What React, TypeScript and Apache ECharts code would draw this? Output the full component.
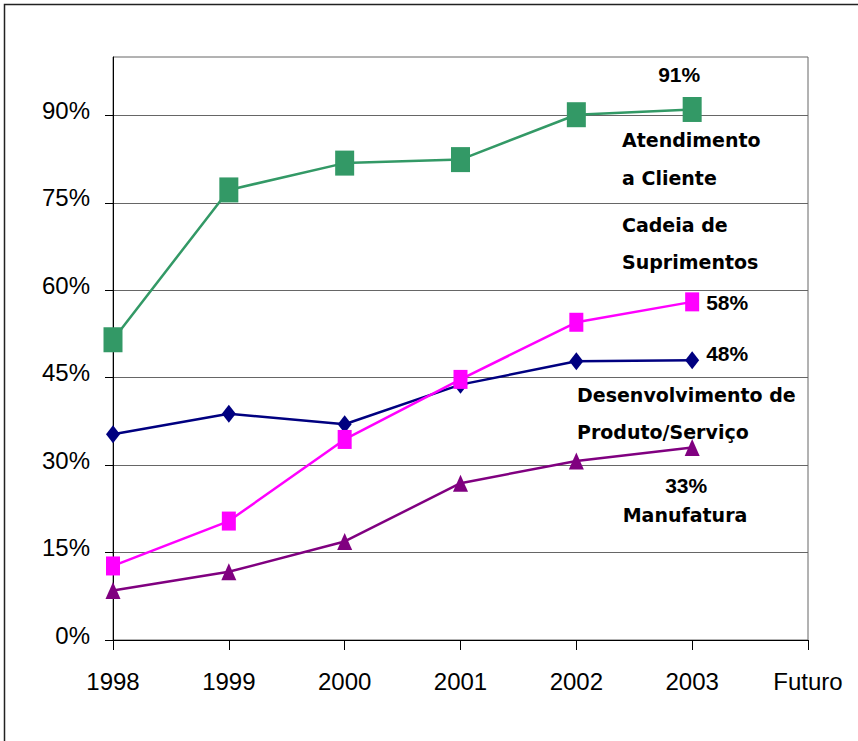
import React, { useEffect, useRef } from "react";
import * as echarts from "echarts";

// Category axis: survey years plus an empty "Futuro" slot at the right edge
const years = ["1998", "1999", "2000", "2001", "2002", "2003", "Futuro"];

// Share of companies (%) per business area
const atendimentoCliente = [51.5, 77.2, 81.8, 82.4, 90.1, 91];
const cadeiaSuprimentos = [12.7, 20.4, 34.4, 44.7, 54.5, 58];
const desenvolvimentoProduto = [35.3, 38.8, 37.0, 43.8, 47.8, 48];
const manufatura = [8.5, 11.7, 16.9, 26.9, 30.7, 33];

const yTicks = [0, 15, 30, 45, 60, 75, 90];

const percentFont = {
  fontFamily: "Liberation Sans, Arial, sans-serif",
  fontWeight: "bold" as const,
  fontSize: 21,
  color: "#000",
};

// Value label on the last point of a series, text taken from the value itself
function withEndLabel(values: number[], label: Record<string, unknown>) {
  return values.map((v, i) =>
    i === values.length - 1
      ? {
          value: v,
          label: {
            show: true,
            position: "inside",
            verticalAlign: "middle",
            formatter: (p: any) => Math.round(p.value) + "%",
            ...percentFont,
            ...label,
          },
        }
      : v
  );
}

const wordStyle = {
  fill: "#000",
  fontFamily: "DejaVu Sans, Verdana, sans-serif",
  fontWeight: "bold" as const,
  fontSize: 19,
  align: "left" as const,
  verticalAlign: "middle" as const,
};

function caption(text: string, x: number, y: number, align: "left" | "center" = "left") {
  return { type: "text", x, y, z: 10, style: { ...wordStyle, text, align } };
}

export default function App() {
  const ref = useRef<HTMLDivElement>(null);

  useEffect(() => {
    if (!ref.current) return;
    const chart = echarts.init(ref.current, undefined, { renderer: "svg" });
    chart.setOption({
      animation: false,
      backgroundColor: "#fff",
      grid: {
        left: 113,
        top: 57,
        right: 50,
        bottom: 101,
        show: true,
        borderColor: "#666",
        borderWidth: 1,
      },
      xAxis: {
        type: "category",
        data: years,
        boundaryGap: false,
        axisLine: { lineStyle: { color: "#000", width: 1 } },
        axisTick: { show: true, length: 10, lineStyle: { color: "#000" } },
        axisLabel: {
          color: "#000",
          fontSize: 24,
          fontFamily: "Liberation Sans, Arial, sans-serif",
          margin: 29,
        },
        splitLine: { show: false },
      },
      yAxis: {
        type: "value",
        min: 0,
        max: 100,
        interval: 15,
        axisLine: { show: true, lineStyle: { color: "#000", width: 1 } },
        axisTick: {
          show: true,
          length: 8,
          lineStyle: { color: "#000" },
          customValues: yTicks,
        },
        axisLabel: {
          color: "#000",
          fontSize: 24,
          fontFamily: "Liberation Sans, Arial, sans-serif",
          margin: 23,
          verticalAlign: "bottom",
          lineHeight: 10,
          customValues: yTicks,
          formatter: (v: number) => v + "%",
        },
        splitLine: { show: true, lineStyle: { color: "#666", width: 1 } },
      },
      series: [
        {
          name: "Desenvolvimento de Produto/Serviço",
          type: "line",
          data: withEndLabel(desenvolvimentoProduto, { align: "left", offset: [14, -7] }),
          symbol: "diamond",
          symbolSize: [14, 18],
          lineStyle: { color: "#000080", width: 2.5 },
          itemStyle: { color: "#000080" },
        },
        {
          name: "Manufatura",
          type: "line",
          data: withEndLabel(manufatura, { align: "center", offset: [-6, 38] }),
          symbol: "triangle",
          symbolSize: [15, 17],
          lineStyle: { color: "#800080", width: 2.5 },
          itemStyle: { color: "#800080" },
        },
        {
          name: "Cadeia de Suprimentos",
          type: "line",
          data: withEndLabel(cadeiaSuprimentos, { align: "left", offset: [14, 1] }),
          symbol: "rect",
          symbolSize: [14, 19],
          lineStyle: { color: "#FF00FF", width: 2.5 },
          itemStyle: { color: "#FF00FF" },
        },
        {
          name: "Atendimento a Cliente",
          type: "line",
          data: withEndLabel(atendimentoCliente, { align: "center", offset: [-13, -35] }),
          symbol: "rect",
          symbolSize: [19, 25],
          lineStyle: { color: "#339966", width: 2.5 },
          itemStyle: { color: "#339966" },
        },
      ],
      graphic: [
        {
          type: "rect",
          z: -1,
          shape: { x: 4.5, y: 4.5, width: 900, height: 800 },
          style: { fill: "none", stroke: "#222", lineWidth: 1.5 },
        },
        caption("Atendimento", 622, 140),
        caption("a Cliente", 622, 178),
        caption("Cadeia de", 622, 225),
        caption("Suprimentos", 622, 262),
        caption("Desenvolvimento de", 577, 395),
        caption("Produto/Serviço", 577, 432),
        caption("Manufatura", 685, 515, "center"),
      ],
    });
    return () => chart.dispose();
  }, []);

  return (
    <div
      ref={ref}
      style={{ position: "absolute", left: 0, top: 0, width: 858, height: 741 }}
    />
  );
}
